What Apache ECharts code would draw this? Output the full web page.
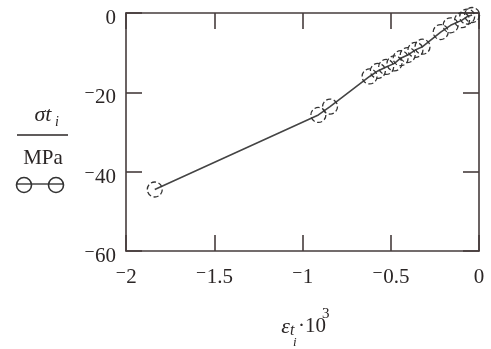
<!DOCTYPE html>
<html>
<head>
<meta charset="utf-8">
<script src="https://cdn.jsdelivr.net/npm/echarts@6/dist/echarts.min.js"></script>
<style>
  html, body { margin: 0; padding: 0; background: #fff; }
  #chart { width: 491px; height: 349px; }
</style>
</head>
<body>
<div id="chart"></div>
<script>
// strain eps_t_i * 10^3 and stress sigma_t_i / MPa
const strainX = [-1.837, -0.910, -0.844, -0.620, -0.573, -0.526, -0.479, -0.444, -0.404, -0.360, -0.320, -0.217, -0.161, -0.096, -0.067, -0.039];
const stressY = [-44.5, -25.7, -23.6, -16.0, -14.6, -13.6, -12.7, -11.4, -10.6, -9.3, -8.5, -4.8, -3.1, -1.8, -0.9, -0.5];

const xTicks = { min: -2, max: 0, step: 0.5 };
const yTicks = { min: -60, max: 0, step: 20 };

const serif = '"Liberation Serif", "DejaVu Serif", serif';
const ink = '#2b2626';
const frame = '#463c3c';

function tickText(v) {
  return v < 0 ? '\u207B' + Math.abs(v) : String(v);
}

const points = strainX.map((x, i) => [x, stressY[i]]);

function axisX(pos, labels) {
  return {
    type: 'value', position: pos,
    min: xTicks.min, max: xTicks.max, interval: xTicks.step,
    axisLine: { show: true, onZero: false, lineStyle: { color: frame, width: 1.6 } },
    axisTick: { show: true, inside: true, length: 16, lineStyle: { color: frame, width: 1.6 } },
    axisLabel: { show: labels, formatter: tickText, fontFamily: serif, fontSize: 21, color: ink, margin: 16 },
    splitLine: { show: false }
  };
}

function axisY(pos, labels) {
  return {
    type: 'value', position: pos,
    min: yTicks.min, max: yTicks.max, interval: yTicks.step,
    axisLine: { show: true, onZero: false, lineStyle: { color: frame, width: 1.6 } },
    axisTick: { show: true, inside: true, length: 16, lineStyle: { color: frame, width: 1.6 } },
    axisLabel: { show: labels, formatter: tickText, fontFamily: serif, fontSize: 21, color: ink, margin: 10, verticalAlign: 'top', lineHeight: 11 },
    splitLine: { show: false }
  };
}

let myChart = echarts.init(document.getElementById('chart'));
myChart.setOption({
  animation: false,
  backgroundColor: '#fff',
  grid: { left: 126, right: 12, top: 13, bottom: 98 },
  xAxis: [axisX('bottom', true), axisX('top', false)],
  yAxis: [axisY('left', true), axisY('right', false)],
  series: [
    {
      type: 'line',
      data: points,
      symbol: 'circle',
      symbolSize: 15,
      itemStyle: { color: 'rgba(0,0,0,0)', borderColor: '#333', borderWidth: 1.3, borderType: 'dashed' },
      lineStyle: { color: '#444', width: 1.6 }
    }
  ],
  graphic: [
    // y axis title: sigma t_i / MPa, with the series glyph below
    { type: 'text', x: 43, y: 115, style: { text: 'σt', font: 'italic 22px ' + serif, fill: ink, textAlign: 'center', textVerticalAlign: 'middle' } },
    { type: 'text', x: 55, y: 122, style: { text: 'i', font: 'italic 14px ' + serif, fill: ink, textAlign: 'left', textVerticalAlign: 'middle' } },
    { type: 'line', shape: { x1: 17, y1: 135, x2: 68, y2: 135 }, style: { stroke: ink, lineWidth: 1.6 } },
    { type: 'text', x: 43, y: 158, style: { text: 'MPa', font: '21px ' + serif, fill: ink, textAlign: 'center', textVerticalAlign: 'middle' } },
    { type: 'line', shape: { x1: 16, y1: 184, x2: 64, y2: 184 }, style: { stroke: '#444', lineWidth: 1.5 } },
    { type: 'circle', shape: { cx: 24, cy: 185, r: 7.5 }, style: { fill: 'none', stroke: '#333', lineWidth: 1.6 } },
    { type: 'circle', shape: { cx: 56, cy: 185, r: 7.5 }, style: { fill: 'none', stroke: '#333', lineWidth: 1.6 } },
    // x axis title: eps_t_i * 10^3
    { type: 'text', x: 290, y: 327, style: { text: 'ε', font: 'italic 22px ' + serif, fill: ink, textAlign: 'right', textVerticalAlign: 'middle' } },
    { type: 'text', x: 290, y: 331, style: { text: 't', font: 'italic 16px ' + serif, fill: ink, textAlign: 'left', textVerticalAlign: 'middle' } },
    { type: 'text', x: 293, y: 343, style: { text: 'i', font: 'italic 13px ' + serif, fill: ink, textAlign: 'left', textVerticalAlign: 'middle' } },
    { type: 'text', x: 298, y: 326, style: { text: '·10', font: '21px ' + serif, fill: ink, textAlign: 'left', textVerticalAlign: 'middle' } },
    { type: 'text', x: 322, y: 314, style: { text: '3', font: '15px ' + serif, fill: ink, textAlign: 'left', textVerticalAlign: 'middle' } }
  ]
});
</script>
</body>
</html>
